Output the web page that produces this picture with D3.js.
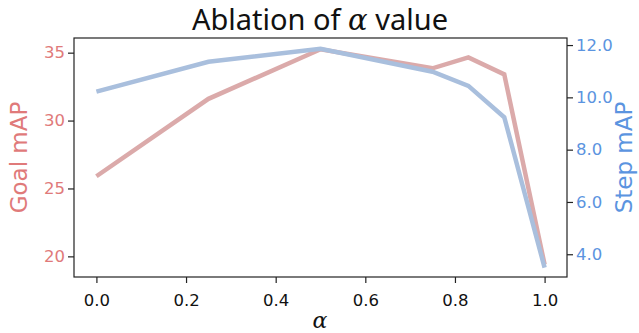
<!DOCTYPE html>
<html>
<head>
<meta charset="utf-8">
<script src="https://d3js.org/d3.v7.min.js"></script>
<style>
  body { margin: 0; background: #fff; }
  svg { font-family: "DejaVu Sans", sans-serif; }
</style>
</head>
<body>
<svg width="639" height="333"></svg>
<script>
// alpha values and the two metrics
const alphas = [0, 0.25, 0.5, 0.75, 0.83, 0.91, 1.0];
const goalMAP = [25.9, 31.6, 35.25, 33.85, 34.65, 33.4, 19.4];
const stepMAP = [10.22, 11.36, 11.86, 10.98, 10.44, 9.24, 3.49];
const xTicks = [0, 0.2, 0.4, 0.6, 0.8, 1.0];
const goalTicks = [20, 25, 30, 35];
const stepTicks = [4, 6, 8, 10, 12];

const goalColor = "#e07a7a", stepColor = "#5b94e0";
const goalLine = "#dbaaaa", stepLine = "#a9bfdd";

const svg = d3.select("svg");
const m = {top: 38, right: 72, bottom: 56, left: 74};
const W = 639, H = 333;

const x = d3.scaleLinear().domain([-0.05, 1.05]).range([m.left, W - m.right]);
const yGoal = d3.scaleLinear().domain([18.48, 36.08]).range([H - m.bottom, m.top]);
const yStep = d3.scaleLinear().domain([3.13, 12.27]).range([H - m.bottom, m.top]);

// frame
svg.append("rect")
  .attr("x", m.left).attr("y", m.top)
  .attr("width", W - m.left - m.right).attr("height", H - m.top - m.bottom)
  .attr("fill", "none").attr("stroke", "#222").attr("stroke-width", 1.2);

const xAxis = svg.append("g")
  .attr("transform", `translate(0,${H - m.bottom})`)
  .call(d3.axisBottom(x).tickValues(xTicks).tickFormat(d3.format(".1f")).tickSizeOuter(0));
const lAxis = svg.append("g")
  .attr("transform", `translate(${m.left},0)`)
  .call(d3.axisLeft(yGoal).tickValues(goalTicks).tickFormat(d3.format("d")).tickSizeOuter(0));
const rAxis = svg.append("g")
  .attr("transform", `translate(${W - m.right},0)`)
  .call(d3.axisRight(yStep).tickValues(stepTicks).tickFormat(d3.format(".1f")).tickSizeOuter(0));

[xAxis, lAxis, rAxis].forEach(a => {
  a.select(".domain").remove();
  a.selectAll(".tick line").attr("stroke", "#222").attr("stroke-width", 1.2);
  a.selectAll("text").attr("font-size", 16.5).attr("font-family", "DejaVu Sans, sans-serif");
});
xAxis.selectAll("text").attr("fill", "#111").attr("dy", "1.2em");
lAxis.selectAll("text").attr("fill", goalColor);
rAxis.selectAll("text").attr("fill", stepColor);

const line = (ys, vals) => d3.line().x((d, i) => x(alphas[i])).y(d => ys(d))(vals);

svg.append("path").attr("d", line(yGoal, goalMAP))
  .attr("fill", "none").attr("stroke", goalLine).attr("stroke-width", 4.5);
svg.append("path").attr("d", line(yStep, stepMAP))
  .attr("fill", "none").attr("stroke", stepLine).attr("stroke-width", 4.5);

// title and labels
const title = svg.append("text").attr("x", 320).attr("y", 30)
  .attr("text-anchor", "middle").attr("font-size", 29)
  .attr("font-family", "Noto Sans, sans-serif").attr("fill", "#111");
title.append("tspan").text("Ablation of ");
title.append("tspan").attr("font-style", "italic").attr("font-family", "DejaVu Serif, serif").text("α");
title.append("tspan").text(" value");

svg.append("text").attr("x", 320).attr("y", 328)
  .attr("text-anchor", "middle").attr("font-size", 22).attr("font-style", "italic")
  .attr("font-family", "DejaVu Serif, serif").attr("fill", "#111").text("α");

svg.append("text")
  .attr("transform", `translate(27,${(m.top + H - m.bottom) / 2}) rotate(-90)`)
  .attr("text-anchor", "middle").attr("font-size", 23).attr("fill", goalColor).text("Goal mAP");
svg.append("text")
  .attr("transform", `translate(632,${(m.top + H - m.bottom) / 2}) rotate(-90)`)
  .attr("text-anchor", "middle").attr("font-size", 23).attr("fill", stepColor).text("Step mAP");
</script>
</body>
</html>
